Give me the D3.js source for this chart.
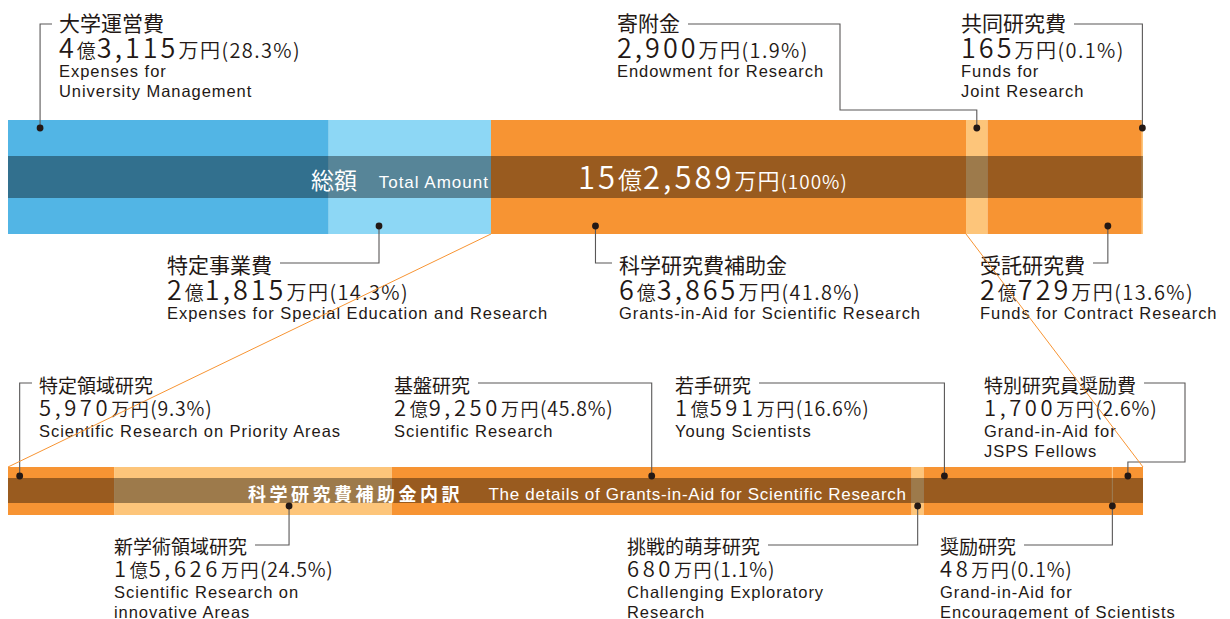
<!doctype html>
<html>
<head>
<meta charset="utf-8">
<script src="https://cdn.jsdelivr.net/npm/d3@7"></script>
<style>
  body { margin: 0; background: #fff; }
  text { fill: #231815; }
  .jp { font-family: "Noto Sans CJK JP", sans-serif; }
  .en { font-family: "Liberation Sans", Arial, sans-serif; letter-spacing: 0.95px; }
</style>
</head>
<body>
<script>
// income breakdown, values in 万円
var topNames = ["大学運営費", "特定事業費", "科学研究費補助金", "寄附金", "受託研究費", "共同研究費"];
var topEnglish = [["Expenses for", "University Management"], ["Expenses for Special Education and Research"],
                  ["Grants-in-Aid for Scientific Research"], ["Endowment for Research"],
                  ["Funds for Contract Research"], ["Funds for", "Joint Research"]];
var topValues = [43115, 21815, 63865, 2900, 20729, 165];
var topPercent = [28.3, 14.3, 41.8, 1.9, 13.6, 0.1];

// details of 科学研究費補助金
var subNames = ["特定領域研究", "新学術領域研究", "基盤研究", "挑戦的萌芽研究", "若手研究", "奨励研究", "特別研究員奨励費"];
var subEnglish = [["Scientific Research on Priority Areas"], ["Scientific Research on", "innovative Areas"],
                  ["Scientific Research"], ["Challenging Exploratory", "Research"], ["Young Scientists"],
                  ["Grand-in-Aid for", "Encouragement of Scientists"], ["Grand-in-Aid for", "JSPS Fellows"]];
var subValues = [5970, 15626, 29250, 680, 10591, 48, 1700];
var subPercent = [9.3, 24.5, 45.8, 1.1, 16.6, 0.1, 2.6];

// styles / layout
var topColors = ["#52b5e5", "#8dd7f5", "#f79433", "#fdc57a", "#f79433", "#fdc57a"];
var subColors = ["#f79433", "#fdc57a", "#f79433", "#fdc57a", "#f79433", "#fdc57a", "#f79433"];

var topLayout = [
  {x: 59,  y: 31,  side: "left",  lineY: 24,  f: 0.10},
  {x: 167, y: 273, side: "right", lineY: 263, f: 0.31},
  {x: 619, y: 273, side: "left",  lineY: 263, f: 0.22},
  {x: 617, y: 31,  side: "right", lineY: 24,  f: 0.5, via: [[840, 24], [840, 110]]},
  {x: 980, y: 273, side: "right", lineY: 263, f: 0.78},
  {x: 961, y: 31,  side: "right", lineY: 24,  f: 0.5}
];
var subLayout = [
  {x: 39,  y: 393, side: "left",  lineY: 383, f: 0.11},
  {x: 114, y: 554, side: "right", lineY: 545, f: 0.63},
  {x: 394, y: 393, side: "right", lineY: 383, f: 0.5},
  {x: 627, y: 554, side: "right", lineY: 545, f: 0.5},
  {x: 675, y: 393, side: "right", lineY: 383, f: 0.11},
  {x: 940, y: 554, side: "right", lineY: 545, f: 0.5},
  {x: 984, y: 393, side: "right", lineY: 383, f: 0.5, via: [[1185, 383], [1185, 462]]}
];

var W = 1230, H = 619;
var barLeft = 8, barRight = 1143;
var topBar = {y0: 120, y1: 234, b0: 156, b1: 198, dotTop: 128, dotBottom: 226};
var subBar = {y0: 467, y1: 515, b0: 478, b1: 503, dotTop: 476, dotBottom: 506};

var svg = d3.select("body").append("svg")
  .attr("width", W).attr("height", H);

function stack(values) {
  var acc = 0;
  return values.map(function(v, i) {
    var s = acc; acc += v;
    return {i: i, start: s, end: acc, value: v};
  });
}

var topTotal = d3.sum(topValues);
var subTotal = d3.sum(subValues);
var xTop = d3.scaleLinear().domain([0, topTotal]).range([barLeft, barRight]);
var xSub = d3.scaleLinear().domain([0, subTotal]).range([barLeft, barRight]);
var topStack = stack(topValues);
var subStack = stack(subValues);

function drawBar(g, st, x, colors, bar) {
  g.selectAll("rect.seg").data(st).enter().append("rect")
    .attr("class", "seg")
    .attr("x", function(d) { return x(d.start); })
    .attr("y", bar.y0)
    .attr("width", function(d) { return x(d.end) - x(d.start); })
    .attr("height", bar.y1 - bar.y0)
    .attr("fill", function(d) { return colors[d.i]; });
  g.append("rect")
    .attr("x", x(0)).attr("y", bar.b0)
    .attr("width", x.range()[1] - x.range()[0]).attr("height", bar.b1 - bar.b0)
    .attr("fill", "#000").attr("fill-opacity", 0.38);
}

drawBar(svg.append("g"), topStack, xTop, topColors, topBar);
drawBar(svg.append("g"), subStack, xSub, subColors, subBar);

// value string pieces: 4億3,115万円
function yenParts(v) {
  var oku = Math.floor(v / 10000), man = v % 10000, parts = [];
  if (oku > 0) { parts.push({t: String(oku), k: "num"}); parts.push({t: "億", k: "oku"}); }
  parts.push({t: d3.format(",")(man), k: "num"});
  parts.push({t: "万円", k: "unit"});
  return parts;
}

var bigSizes = {title: 21, num: 27, numLs: 3, oku: 19, unit: 20, unitLs: 1.5, pct: 20, pctLs: 1.4, dv: 27, de: 46, dl: 20};
var smallSizes = {title: 19, num: 22, numLs: 3.6, oku: 18, unit: 18, unitLs: 1.5, pct: 19.5, pctLs: 0.8, dv: 23, de: 44, dl: 19.5};

function drawLabels(g, names, english, values, pcts, st, x, layout, bar, sz) {
  layout.forEach(function(L, i) {
    var seg = st[i];
    var dotX = x(seg.start) + (x(seg.end) - x(seg.start)) * L.f;
    var dotY = L.y < bar.y0 ? bar.dotTop : bar.dotBottom;

    var title = g.append("text").attr("class", "jp")
      .attr("x", L.x).attr("y", L.y)
      .style("font-size", sz.title + "px")
      .text(names[i]);
    var tw = title.node().getComputedTextLength();

    var vt = g.append("text").attr("class", "jp")
      .attr("x", L.x).attr("y", L.y + sz.dv)
      .style("font-weight", 350);
    yenParts(values[i]).forEach(function(p) {
      var ts = vt.append("tspan").text(p.t);
      if (p.k === "num") ts.style("font-size", sz.num + "px").style("letter-spacing", sz.numLs + "px");
      else if (p.k === "oku") ts.style("font-size", sz.oku + "px").style("letter-spacing", "1px");
      else ts.style("font-size", sz.unit + "px").style("letter-spacing", sz.unitLs + "px");
    });
    vt.append("tspan").text("(" + d3.format(".1f")(pcts[i]) + "%)")
      .style("font-size", sz.pct + "px").style("letter-spacing", sz.pctLs + "px");

    english[i].forEach(function(line, j) {
      g.append("text").attr("class", "en")
        .attr("x", L.x).attr("y", L.y + sz.de + j * sz.dl)
        .style("font-size", "16.5px")
        .text(line);
    });

    var pts;
    if (L.side === "left") {
      pts = [[L.x - 7, L.lineY], [dotX, L.lineY], [dotX, dotY]];
    } else {
      pts = [[L.x + tw + 8, L.lineY]].concat(L.via || []);
      var last = pts[pts.length - 1];
      pts.push([dotX, last[1]]);
      pts.push([dotX, dotY]);
    }
    g.append("path")
      .attr("d", d3.line()(pts))
      .attr("fill", "none").attr("stroke", "#595757").attr("stroke-width", 1.1);
    g.append("circle").attr("cx", dotX).attr("cy", dotY).attr("r", 3.4).attr("fill", "#231815");
  });
}

drawLabels(svg.append("g"), topNames, topEnglish, topValues, topPercent, topStack, xTop, topLayout, topBar, bigSizes);
drawLabels(svg.append("g"), subNames, subEnglish, subValues, subPercent, subStack, xSub, subLayout, subBar, smallSizes);

// connector lines from 科学研究費補助金 segment down to details bar
var kaken = topStack[2];
svg.append("g").selectAll("line").data([[kaken.start, 0], [kaken.end, subTotal]]).enter().append("line")
  .attr("x1", function(d) { return xTop(d[0]); }).attr("y1", topBar.y1)
  .attr("x2", function(d) { return xSub(d[1]); }).attr("y2", subBar.y0)
  .attr("stroke", "#f79433").attr("stroke-width", 1);

// band titles
var band = svg.append("g");
var boundary = xTop(topStack[1].end);
band.append("text").attr("class", "en")
  .attr("x", boundary - 2).attr("y", 188).attr("text-anchor", "end")
  .style("font-size", "17px").style("letter-spacing", "1px").style("fill", "#fff").text("Total Amount");
band.append("text").attr("class", "jp")
  .attr("x", 357).attr("y", 189).attr("text-anchor", "end")
  .style("font-size", "23px").style("font-weight", 400).style("fill", "#fff").text("総額");

var totalText = band.append("text").attr("class", "jp")
  .attr("x", 578).attr("y", 189).style("fill", "#fff").style("font-weight", 350);
yenParts(topTotal).forEach(function(p) {
  var ts = totalText.append("tspan").text(p.t).style("fill", "#fff");
  if (p.k === "num") ts.style("font-size", "31px").style("letter-spacing", "3px");
  else if (p.k === "oku") ts.style("font-size", "24px").style("letter-spacing", "1px");
  else ts.style("font-size", "22px").style("letter-spacing", "1px");
});
totalText.append("tspan").text("(100%)").style("fill", "#fff")
  .style("font-size", "19px").style("letter-spacing", "1px");

var subBoundary = xSub(subStack[2].end);
band.append("text").attr("class", "en")
  .attr("x", subBoundary - 5).attr("y", 500).attr("text-anchor", "end")
  .style("font-size", "17px").style("letter-spacing", "0.7px").style("fill", "#fff")
  .text("The details of Grants-in-Aid for Scientific Research");
band.append("text").attr("class", "jp")
  .attr("x", 248).attr("y", 501)
  .style("font-size", "18px").style("font-weight", 700).style("letter-spacing", "3.5px").style("fill", "#fff")
  .text("科学研究費補助金内訳");
</script>
</body>
</html>
